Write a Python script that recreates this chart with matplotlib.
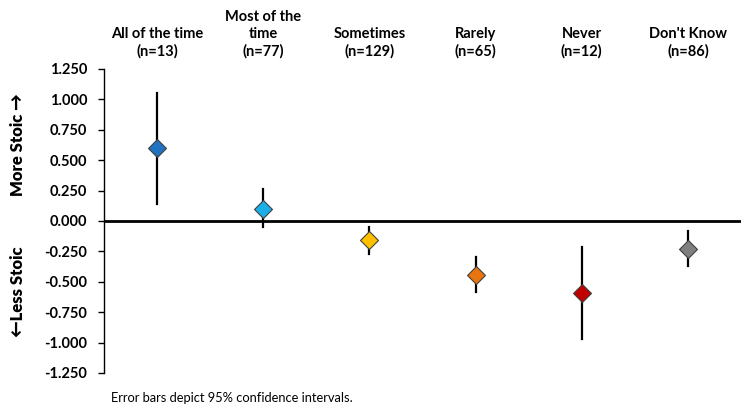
import matplotlib.pyplot as plt
import numpy as np

plt.rcParams['font.family'] = ['Lato', 'DejaVu Sans']

categories = ["All of the time\n(n=13)", "Most of the\ntime\n(n=77)", "Sometimes\n(n=129)",
              "Rarely\n(n=65)", "Never\n(n=12)", "Don't Know\n(n=86)"]
means = [0.60, 0.10, -0.16, -0.44, -0.59, -0.23]
ci_upper = [1.05, 0.26, -0.05, -0.30, -0.21, -0.08]
ci_lower = [0.14, -0.05, -0.27, -0.58, -0.97, -0.37]
colors = ['#1F73C0', '#1AAFE6', '#FFC000', '#E8740F', '#C00000', '#7F7F7F']

fig = plt.figure(figsize=(7.44, 4.09), dpi=100)
ax = fig.add_axes([104 / 744, 1 - 373 / 409, 637 / 744, 304 / 409])

x = np.arange(1, len(categories) + 1)
for xi, m, lo, hi, c in zip(x, means, ci_lower, ci_upper, colors):
    ax.plot([xi, xi], [lo, hi], color='black', lw=1.6, zorder=2)
    ax.plot(xi, m, marker='D', ms=9.5, mfc=c, mec='#404040', mew=0.8, zorder=3)

ax.axhline(0, color='black', lw=2, zorder=1)

ax.set_xlim(0.5, 6.5)
ax.set_ylim(-1.25, 1.25)
ax.set_yticks(np.arange(-1.25, 1.26, 0.25))
ax.set_yticklabels([f"{v:.3f}" for v in np.arange(-1.25, 1.26, 0.25)],
                   fontsize=10.5, fontweight='bold')
ax.tick_params(axis='y', length=4, width=1, pad=8)
ax.set_xticks([])
for s in ['top', 'right', 'bottom']:
    ax.spines[s].set_visible(False)
ax.spines['left'].set_linewidth(1)

for xi, lab in zip(x, categories):
    ax.text(xi, 1.035, lab, transform=ax.get_xaxis_transform(), ha='center', va='bottom',
            fontsize=10.5, fontweight='bold', linespacing=1.25)

fig.text(18 / 744, 1 - 145 / 409, "More Stoic \u2192", rotation=90, ha='center', va='center',
         fontsize=12, fontweight='heavy', family=['Lato', 'Noto Sans CJK JP'])
fig.text(18 / 744, 1 - 292 / 409, "\u2190Less Stoic", rotation=90, ha='center', va='center',
         fontsize=12, fontweight='heavy', family=['Lato', 'Noto Sans CJK JP'])
fig.text(111 / 744, 1 - 398 / 409, "Error bars depict 95% confidence intervals.",
         ha='left', va='center', fontsize=9.3)

fig.savefig("out.png", dpi=100)
